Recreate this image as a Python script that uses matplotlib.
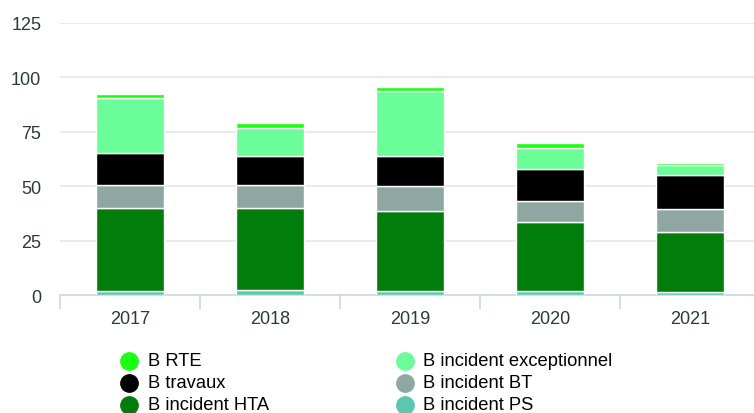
import matplotlib
matplotlib.use("Agg")
import matplotlib.pyplot as plt
import numpy as np
from matplotlib.lines import Line2D

plt.rcParams["font.family"] = ["Liberation Sans", "DejaVu Sans"]

years = ["2017", "2018", "2019", "2020", "2021"]

# stacked from the bottom up
b_incident_ps = [1.8, 2.6, 1.8, 1.8, 1.7]
b_incident_hta = [38.3, 37.6, 37.1, 31.8, 27.3]
b_incident_bt = [10.6, 10.4, 11.2, 9.9, 10.5]
b_travaux = [14.6, 13.4, 13.8, 14.7, 15.7]
b_incident_exc = [25.5, 12.9, 30.0, 9.4, 4.7]
b_rte = [1.4, 2.4, 1.5, 2.3, 0.9]

series = [
    ("B incident PS", b_incident_ps, "#5cc6b0"),
    ("B incident HTA", b_incident_hta, "#007d0a"),
    ("B incident BT", b_incident_bt, "#8fa7a3"),
    ("B travaux", b_travaux, "#000000"),
    ("B incident exceptionnel", b_incident_exc, "#6bfd98"),
    ("B RTE", b_rte, "#1aff12"),
]

W, H = 754, 414
fig = plt.figure(figsize=(W / 100, H / 100), dpi=100)
ax = fig.add_axes([60 / W, (H - 296.3) / H, 700 / W, (296.3 - 24) / H])

x = np.arange(len(years))
bottom = np.zeros(len(years))
for name, vals, color in series:
    ax.bar(x, vals, width=0.48, bottom=bottom, color=color,
           edgecolor="white", linewidth=1, zorder=3)
    bottom += np.array(vals)

ax.set_xlim(-0.5, len(years) - 0.5)
ax.set_ylim(0, 125)
ax.set_yticks([0, 25, 50, 75, 100, 125])
ax.yaxis.grid(True, color="#e6e6e6", linewidth=1.2, zorder=0)
ax.set_axisbelow(True)

for s in ["top", "right", "left"]:
    ax.spines[s].set_visible(False)
ax.spines["bottom"].set_color("#ccd6eb")
ax.spines["bottom"].set_linewidth(1.2)

ax.set_xticks(x)
ax.set_xticklabels(years)
ax.set_xticks(np.arange(len(years) + 1) - 0.5, minor=True)
ax.tick_params(axis="x", which="major", length=0, pad=10.5,
               labelsize=13, labelcolor="#2b3a3a")
ax.tick_params(axis="x", which="minor", length=10, color="#ccd6eb", width=1.2)
ax.tick_params(axis="y", length=0, pad=13.5, labelsize=13, labelcolor="#2b3a3a")

# legend, two columns, row-major from the top of the stack
legend_items = list(reversed(series))
col_x = [(129, 148), (405, 423)]
row_y = [362, 384, 406]
for i, (name, vals, color) in enumerate(legend_items):
    r, c = divmod(i, 2)
    mx, tx = col_x[c]
    y = 1 - row_y[r] / H
    fig.add_artist(Line2D([mx / W], [y], marker="o", markersize=12.5,
                          color=color, linestyle="none",
                          transform=fig.transFigure))
    fig.text(tx / W, y, name, fontsize=13.2, color="#000000",
             va="center", ha="left")

fig.savefig("out.png", dpi=100)
